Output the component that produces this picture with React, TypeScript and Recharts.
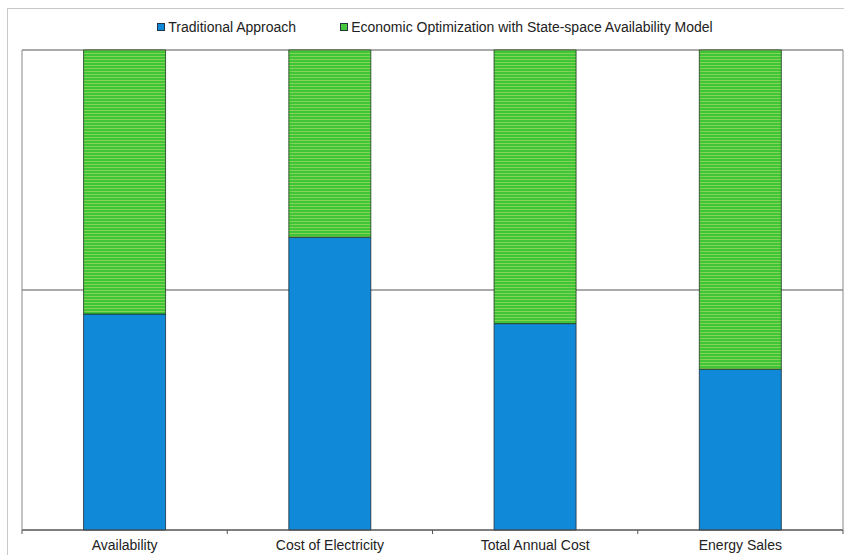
import { Bar, BarChart, CartesianGrid, Legend, XAxis, YAxis } from 'recharts';

const categories = ['Availability', 'Cost of Electricity', 'Total Annual Cost', 'Energy Sales'];
const traditional = [45, 61, 43, 33.5];
const economic = [55, 39, 57, 66.5];
const seriesNames = ['Traditional Approach', 'Economic Optimization with State-space Availability Model'];
const yTicks = [0, 0.5, 1];

const FONT = "'Liberation Sans', Arial, sans-serif";
const BLUE = '#1189d9';
const GREEN = '#45c83e';
const TICK_GAP = 10;

const data = categories.map((name, i) => ({
  name,
  traditional: traditional[i],
  economic: economic[i],
}));

function LegendContent() {
  const items = [
    { label: seriesNames[0], color: BLUE },
    { label: seriesNames[1], color: GREEN },
  ];
  return (
    <div
      style={{
        display: 'flex',
        justifyContent: 'center',
        fontFamily: FONT,
        fontSize: 14,
        color: '#222',
        paddingLeft: 26,
      }}
    >
      {items.map((it, i) => (
        <div key={it.label} style={{ display: 'flex', alignItems: 'center', marginRight: i === 0 ? 44 : 0 }}>
          <span
            style={{
              display: 'inline-block',
              width: 6,
              height: 6,
              background: it.color,
              border: '1px solid #234',
              marginRight: 3,
            }}
          />
          <span>{it.label}</span>
        </div>
      ))}
    </div>
  );
}

// category label plus a tick mark on each band boundary (Excel style)
function BoundaryTick(props: any) {
  const { x, y, payload, index, visibleTicksCount } = props;
  const half = payload?.offset ?? 0;
  const axisY = y - TICK_GAP;
  const isLast = index === (visibleTicksCount ?? categories.length) - 1;
  return (
    <g>
      <line x1={x - half} x2={x - half} y1={axisY} y2={axisY + 4} stroke="#555" />
      {isLast && <line x1={x + half} x2={x + half} y1={axisY} y2={axisY + 4} stroke="#555" />}
      <text x={x} y={y} dy="0.71em" textAnchor="middle" fill="#222" fontSize={14} fontFamily={FONT}>
        {payload.value}
      </text>
    </g>
  );
}

export default function App() {
  return (
    <div style={{ position: 'fixed', left: 0, top: 0, width: 844, height: 555, background: '#fff' }}>
      <div
        style={{
          position: 'absolute',
          left: 7,
          top: 8,
          right: -2,
          bottom: -2,
          borderLeft: '1px solid #c8c8c8',
          borderTop: '1px solid #c8c8c8',
        }}
      />
      <BarChart
        width={844}
        height={555}
        data={data}
        stackOffset="expand"
        barCategoryGap="30%"
        margin={{ top: 50, right: 0, bottom: 0, left: 0 }}
        style={{ position: 'absolute', left: 0, top: 0 }}
      >
        <defs>
          <pattern id="greenStripes" width="4" height="3" patternUnits="userSpaceOnUse">
            <rect width="4" height="3" fill="#3fc43a" />
            <rect y="2" width="4" height="1" fill="#82d452" />
          </pattern>
        </defs>
        <CartesianGrid vertical={false} horizontalValues={yTicks} stroke="#555" strokeWidth={1} />
        <XAxis
          dataKey="name"
          height={25}
          axisLine={{ stroke: '#555' }}
          tickLine={false}
          tickSize={0}
          tickMargin={TICK_GAP}
          interval={0}
          tick={<BoundaryTick />}
        />
        <YAxis
          domain={[0, 1]}
          ticks={yTicks}
          width={22}
          tickFormatter={() => ''}
          tickLine={false}
          axisLine={{ stroke: '#888' }}
        />
        <YAxis
          yAxisId="right"
          orientation="right"
          domain={[0, 1]}
          width={1}
          tick={false}
          tickLine={false}
          axisLine={{ stroke: '#888' }}
        />
        <Legend verticalAlign="middle" content={<LegendContent />} wrapperStyle={{ top: 19, left: 0, width: 844 }} />
        <Bar
          dataKey="traditional"
          name={seriesNames[0]}
          stackId="a"
          fill={BLUE}
          stroke="#1d2d3a"
          strokeWidth={0.8}
          isAnimationActive={false}
        />
        <Bar
          dataKey="economic"
          name={seriesNames[1]}
          stackId="a"
          fill="url(#greenStripes)"
          stroke="#1d3a1d"
          strokeWidth={0.8}
          isAnimationActive={false}
        />
      </BarChart>
    </div>
  );
}
